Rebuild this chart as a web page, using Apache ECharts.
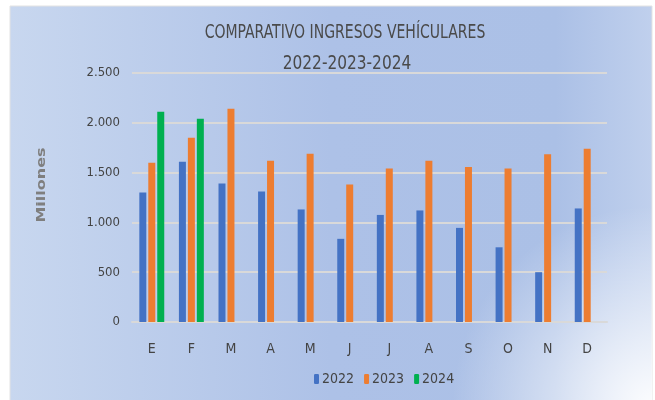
<!DOCTYPE html>
<html>
<head>
<meta charset="utf-8">
<script src="https://cdn.jsdelivr.net/npm/echarts@6/dist/echarts.min.js"></script>
<style>
  html, body { margin: 0; padding: 0; background: #fff; }
  #main { width: 655px; height: 400px; }
</style>
</head>
<body>
<div id="main"></div>
<script>
// datos (millones)
var meses = ['E', 'F', 'M', 'A', 'M', 'J', 'J', 'A', 'S', 'O', 'N', 'D'];
var anios = ['2022', '2023', '2024'];
var v2022 = [1300, 1610, 1390, 1310, 1130, 835, 1075, 1120, 945, 750, 500, 1140];
var v2023 = [1600, 1850, 2140, 1620, 1690, 1380, 1540, 1620, 1555, 1540, 1685, 1740];
var v2024 = [2110, 2040, null, null, null, null, null, null, null, null, null, null];
var yTicks = ['0', '500', '1.000', '1.500', '2.000', '2.500'];

var narrow = '"Liberation Sans Narrow", "DejaVu Sans Condensed", sans-serif';
var gris = '#444444';

var myChart = echarts.init(document.getElementById('main'));

var option = {
  animation: false,
  color: ['#4472C4', '#ED7D31', '#00B050'],
  graphic: [
    // fondo degradado
    {
      type: 'rect', z: -20, silent: true,
      shape: { x: 10, y: 6, width: 642, height: 400 },
      style: {
        fill: new echarts.graphic.LinearGradient(0, 0, 1, 0, [
          { offset: 0, color: '#c8d7ef' },
          { offset: 0.5, color: '#adc1e7' },
          { offset: 0.85, color: '#abc0e6' },
          { offset: 1, color: '#c0d0ed' }
        ]),
        stroke: '#e3e3e3', lineWidth: 1
      }
    },
    {
      type: 'rect', z: -19, silent: true,
      shape: { x: 10, y: 6, width: 642, height: 400 },
      style: {
        fill: new echarts.graphic.RadialGradient(1, 1, 0.5, [
          { offset: 0, color: 'rgba(255,255,255,0.95)' },
          { offset: 1, color: 'rgba(255,255,255,0)' }
        ])
      }
    },
    {
      type: 'text', x: 345, y: 33, scaleX: 0.82,
      style: {
        text: 'COMPARATIVO INGRESOS VEHÍCULARES',
        font: '19px ' + narrow, fill: '#4a4a4a',
        align: 'center', verticalAlign: 'middle'
      }
    },
    {
      type: 'text', x: 347, y: 64, scaleX: 0.9,
      style: {
        text: '2022-2023-2024',
        font: '19px ' + narrow, fill: '#4a4a4a',
        align: 'center', verticalAlign: 'middle'
      }
    },
    {
      type: 'text', x: 42, y: 185, rotation: Math.PI / 2, scaleY: 0.8,
      style: {
        text: 'Millones',
        font: 'bold 16px "DejaVu Sans", sans-serif', fill: '#7f7f7f',
        align: 'center', verticalAlign: 'middle'
      }
    }
  ],
  legend: {
    data: anios,
    left: 314,
    top: 372,
    padding: 0,
    itemWidth: 5,
    itemHeight: 10,
    itemGap: 10,
    textStyle: { fontFamily: narrow, fontSize: 14, color: gris, padding: [0, 0, 0, -2] }
  },
  grid: { left: 132, right: 48, top: 73, bottom: 78 },
  xAxis: {
    type: 'category',
    data: meses,
    axisLine: { lineStyle: { color: '#d9d9d9', width: 2 } },
    axisTick: { show: false },
    axisLabel: { fontFamily: narrow, fontSize: 14, color: gris, margin: 20 }
  },
  yAxis: {
    type: 'value',
    min: 0,
    max: 2500,
    interval: 500,
    axisLine: { show: false },
    axisTick: { show: false },
    splitLine: { lineStyle: { color: '#d9d9d9', width: 2 } },
    axisLabel: {
      fontFamily: narrow, fontSize: 13, color: gris, margin: 12,
      formatter: function (v) { return yTicks[Math.round(v / 500)]; }
    }
  },
  series: [
    { name: '2022', type: 'bar', data: v2022, barWidth: 7, barGap: '28%' },
    { name: '2023', type: 'bar', data: v2023, barWidth: 7, barGap: '28%' },
    { name: '2024', type: 'bar', data: v2024, barWidth: 7, barGap: '28%' }
  ]
};

myChart.setOption(option);
</script>
</body>
</html>
